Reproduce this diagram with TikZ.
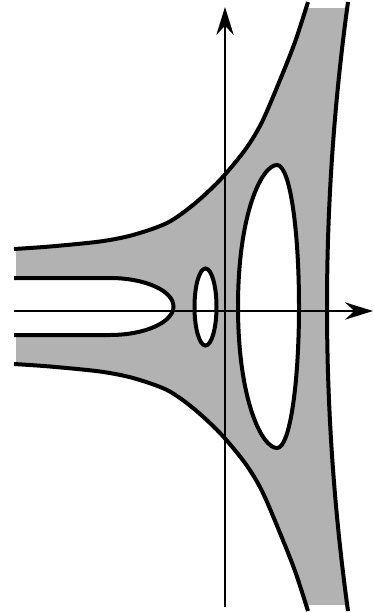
\documentclass[tikz,border=0pt]{standalone}
\usepackage{xcolor}
\usepackage{tikz}
\usetikzlibrary{arrows.meta}

\begin{document}
\begin{tikzpicture}[x=0.75pt,y=-0.75pt,
  curve/.style={line width=3pt},
  axis/.style={line width=1.1pt,-{Stealth[length=21pt,width=13pt,inset=7pt]}}]
\useasboundingbox (0,0) rectangle (374,613);
% shaded region
\begin{scope}
\clip (16,9) rectangle (374,604);
\fill[black!30,even odd rule]
  plot[smooth] coordinates {(14,249) (50,246.5) (100,241.5) (133,235) (167,223) (193,205) (220,180) (245,150) (262,122) (280,80) (295,42) (308,2)}
  -- (348,2) .. controls (320,205) and (320,408) .. (348,611)
  -- plot[smooth] coordinates {(308,611) (295,571) (280,533) (262,491) (245,463) (220,433) (193,408) (167,390) (133,378) (100,371.5) (50,366.5) (14,364)}
  -- (14,335) -- (110,335) .. controls (145,335) and (173.5,322.2) .. (173.5,306.5)
  .. controls (173.5,290.8) and (145,278) .. (110,278) -- (14,278) -- cycle
  (205.5,307) ellipse [x radius=11, y radius=38.5]
  (277,165) .. controls (290,165) and (299,230) .. (299,306.5)
  .. controls (299,383) and (290,448) .. (277,448)
  .. controls (262,448) and (238,400) .. (238,306.5)
  .. controls (238,213) and (262,165) .. (277,165) -- cycle;
\end{scope}
% axes
\draw[axis] (14,311) -- (373,311);
\draw[axis] (225,607) -- (225,7);
% boundary curves
\draw[curve] plot[smooth] coordinates {(14,249) (50,246.5) (100,241.5) (133,235) (167,223) (193,205) (220,180) (245,150) (262,122) (280,80) (295,42) (308,2)};
\draw[curve] plot[smooth] coordinates {(308,611) (295,571) (280,533) (262,491) (245,463) (220,433) (193,408) (167,390) (133,378) (100,371.5) (50,366.5) (14,364)};
\draw[curve] (348,2) .. controls (320,205) and (320,408) .. (348,611);
\draw[curve] (14,278) -- (110,278) .. controls (145,278) and (173.5,290.8) .. (173.5,306.5)
  .. controls (173.5,322.2) and (145,335) .. (110,335) -- (14,335);
\draw[curve] (205.5,307) ellipse [x radius=11, y radius=38.5];
\draw[curve] (277,165) .. controls (290,165) and (299,230) .. (299,306.5)
  .. controls (299,383) and (290,448) .. (277,448)
  .. controls (262,448) and (238,400) .. (238,306.5)
  .. controls (238,213) and (262,165) .. (277,165) -- cycle;
\end{tikzpicture}
\end{document}
